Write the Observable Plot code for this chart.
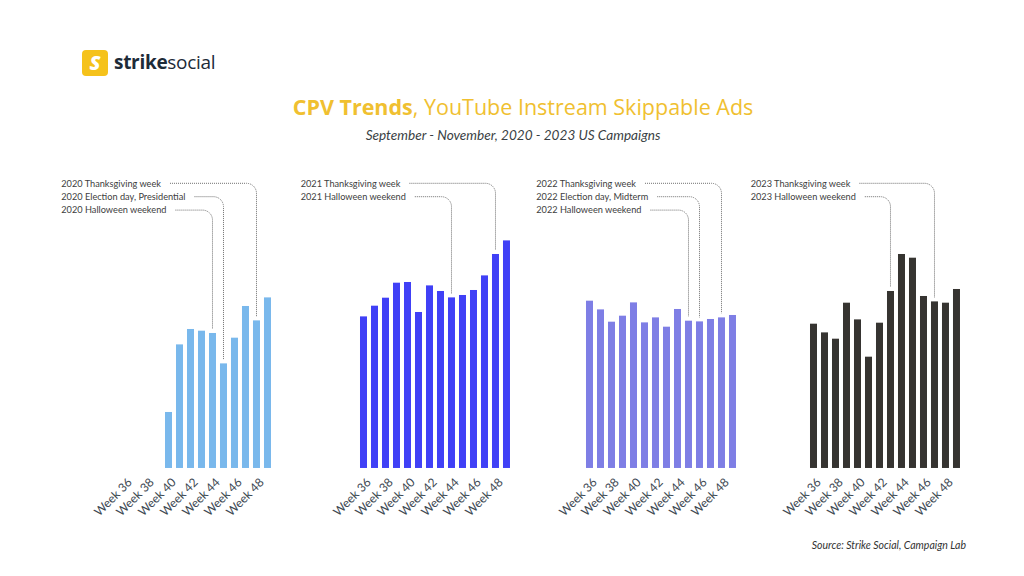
<!DOCTYPE html>
<html><head><meta charset="utf-8">
<script src="https://cdn.jsdelivr.net/npm/d3@7"></script>
<script src="https://cdn.jsdelivr.net/npm/@observablehq/plot@0.6"></script>
<style>
html,body{margin:0;padding:0;background:#fff;}
#root{position:relative;width:1024px;height:576px;overflow:hidden;font-family:Lato,sans-serif;background:#fff;}
.abs{position:absolute;white-space:nowrap;line-height:1;}
</style></head><body><div id="root"></div>
<script>
// ---------- data ----------
const weeks = [36,37,38,39,40,41,42,43,44,45,46,47,48,49];
const tickWeeks = [36,38,40,42,44,46,48];
const years = [2020,2021,2022,2023];
// relative CPV level per week (arbitrary units)
const cpv2020 = [null,null,null,null,56,123.6,139,137.3,135,104.6,130.3,162,147.6,170.6];
const cpv2021 = [151.6,162.3,170.3,185.3,186,156,182.6,177,170.6,173,178,192.6,214,227.6];
const cpv2022 = [167.3,158.6,146.3,152.3,165.6,145.6,150.6,141.3,159,147.3,146.6,149,150.6,153];
const cpv2023 = [144.3,135.6,129.3,165.3,148.6,111.3,145.3,177,214,210.3,172,166.6,165.3,179];
const series = [cpv2020,cpv2021,cpv2022,cpv2023];
const barColors = ["#79b8ec","#4040f6","#7e7ee5","#363431"];
const notes2020 = [{week:48,label:"2020 Thanksgiving week"},{week:45,label:"2020 Election day, Presidential"},{week:44,label:"2020 Halloween weekend"}];
const notes2021 = [{week:48,label:"2021 Thanksgiving week"},{week:44,label:"2021 Halloween weekend"}];
const notes2022 = [{week:48,label:"2022 Thanksgiving week"},{week:46,label:"2022 Election day, Midterm"},{week:45,label:"2022 Halloween weekend"}];
const notes2023 = [{week:47,label:"2023 Thanksgiving week"},{week:43,label:"2023 Halloween weekend"}];
const notes = [notes2020,notes2021,notes2022,notes2023];

// ---------- layout ----------
const root = document.getElementById("root");
function addDiv(html, css){const d=document.createElement("div");d.className="abs";d.innerHTML=html;Object.assign(d.style,css);root.appendChild(d);return d;}

// logo
addDiv('<span style="font-family:\'Open Sans\';font-weight:800;font-size:20px;color:#fff;font-style:italic">S</span>',
  {left:"82px",top:"50px",width:"26px",height:"26px",background:"#f5c21b",borderRadius:"4px",display:"flex",alignItems:"center",justifyContent:"center"});
addDiv('<span style="font-weight:700">strike</span><span style="font-weight:400">social</span>',
  {left:"114px",top:"53px",fontFamily:"'Open Sans'",fontSize:"19px",color:"#1d2b38",letterSpacing:"-0.3px"});
// title
addDiv('<span style="font-weight:700">CPV Trends</span>, YouTube Instream Skippable Ads',
  {left:"523px",top:"96px",transform:"translateX(-50%)",fontFamily:"'Open Sans'",fontSize:"21.5px",color:"#f0c030"});
addDiv('September - November, 2020 - 2023 US Campaigns',
  {left:"513px",top:"128.5px",transform:"translateX(-50%)",fontFamily:"Lato",fontStyle:"italic",fontSize:"13.6px",color:"#3a3f44"});
addDiv('Source: Strike Social, Campaign Lab',
  {right:"58px",top:"540px",fontFamily:"Lato",fontStyle:"italic",fontSize:"10.5px",color:"#333"});

// panels
const firstBarLeft = [117.7,357.3,582.7,807.3];
const labelLeft = [61,301,536,751];
const ML=64, MR=4, MT=0, MB=62, H=360, svgTop=170;
const pad=0.35, step=11.4;
const R = step*(weeks.length - pad + 2*pad);
const W = ML + R + MR;

years.forEach((yr,i)=>{
  const data = weeks.map((w,j)=>({week:w, cpv:series[i][j]})).filter(d=>d.cpv!=null);
  const rangeStart = firstBarLeft[i] - pad*step;
  const svgLeft = rangeStart - ML;
  const plot = Plot.plot({
    width:W, height:H, marginLeft:ML, marginRight:MR, marginTop:MT, marginBottom:MB,
    x:{type:"band", domain:weeks, padding:pad, axis:null, label:null},
    y:{domain:[0,298], axis:null},
    style:{background:"transparent", overflow:"visible", color:"#3d4852", fontFamily:"Lato"},
    marks:[
      Plot.barY(data,{x:"week", y:"cpv", fill:barColors[i]}),
      Plot.axisX({ticks:tickWeeks, tickFormat:d=>`Week ${d}`, tickRotate:-45, tickSize:0, tickPadding:12, fontSize:12, dx:5, label:null})
    ]
  });
  const wrap = document.createElement("div");
  wrap.className="abs";
  Object.assign(wrap.style,{left:svgLeft+"px", top:svgTop+"px"});
  wrap.appendChild(plot);
  root.appendChild(wrap);

  const xs = plot.scale("x"), ys = plot.scale("y");
  const g = d3.select(plot).append("g").attr("text-anchor","start");
  notes[i].forEach((n,k)=>{
    const rowY = 13.3 + k*13.4;
    const t = g.append("text").attr("x", labelLeft[i]-svgLeft).attr("y", rowY).attr("dy","0.35em")
      .attr("text-anchor","start").attr("font-family","Lato").attr("font-size",9.2).attr("fill","#404040").text(n.label);
    const tEnd = labelLeft[i]-svgLeft + t.node().getComputedTextLength();
    const v = series[i][weeks.indexOf(n.week)];
    const cx = xs.apply(n.week) + xs.bandwidth/2;
    const top = ys.apply(v);
    const r = 10;
    g.append("path")
      .attr("d",`M${tEnd+9},${rowY}H${cx-r}A${r},${r} 0 0 1 ${cx},${rowY+r}V${top-4}`)
      .attr("fill","none").attr("stroke","#6e6e6e").attr("stroke-width",1).attr("stroke-dasharray","1,1");
  });
});
</script></body></html>
